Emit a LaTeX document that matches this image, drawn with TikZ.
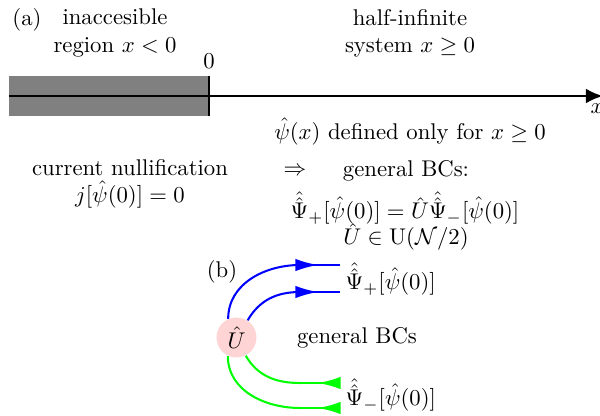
\documentclass[tikz,border=0pt]{standalone}
\usepackage{amsmath,amssymb}
\usepackage{tikz}
\usetikzlibrary{arrows.meta,decorations.markings}

\begin{document}
\begin{tikzpicture}[x=0.44pt, y=0.44pt,
  lbl/.style={align=center, inner sep=1pt},
  axis/.style={line width=1pt, -{Latex[length=7.5pt,width=6.5pt]}},
  wall/.style={fill=gray, draw=none},
  bl/.style={blue, line width=0.9pt},
  gr/.style={green, line width=0.9pt},
  fwd/.style={decoration={markings, mark=at position 0.45 with {\arrow{Latex[length=10pt,width=5.5pt]}}}, postaction=decorate},
  bwd/.style={decoration={markings, mark=at position 0.45 with {\arrowreversed{Latex[length=10pt,width=5.5pt]}}}, postaction=decorate},
  umat/.style={circle, fill=red!17, minimum size=17.6pt, inner sep=0pt}]
\useasboundingbox (0,0) rectangle (600,416);

\node[lbl] (tag-a) at (27,396) {(a)};
\node[lbl] (inacc) at (115,383) {inaccesible\\region $x<0$};
\node[lbl] (halfinf) at (410,383) {half-infinite\\system $x\geq 0$};
\node[lbl] (zero) at (209,355) {0};

\coordinate (xl) at (9,320);
\coordinate (x0) at (209,320);
\coordinate (xr) at (603,320);
\fill[wall] (9,300) rectangle (209,340);
\draw[line width=1pt] (209,300) -- (209,340);
\draw[axis] (xl) -- (xr);
\node[lbl, anchor=north] (xlab) at (597,315) {$x$};

\node[lbl] (defined) at (410,285) {$\hat{\psi}(x)$ defined only for $x\geq 0$};

\node[lbl] (nullif) at (130,232) {current nullification\\$j[\hat{\psi}(0)]=0$};
\node[lbl] (impl) at (295,245) {$\Rightarrow$};
\node[lbl] (genbc) at (406,245) {general BCs:};
\node[lbl] (eq) at (405,208) {$\hat{\hat{\Psi}}_+[\hat{\psi}(0)]=\hat{U}\hat{\hat{\Psi}}_-[\hat{\psi}(0)]$};
\node[lbl] (group) at (406,179) {$\hat{U}\in\mathrm{U}(\mathcal{N}/2)$};

\node[lbl] (tag-b) at (222,144) {(b)};
\node[umat] (U) at (236.5,78.5) {$\hat{U}$};
\node[lbl] (bcs) at (357,78) {general BCs};

\coordinate (bp1) at (300,151);
\coordinate (bq1) at (340,151);
\coordinate (bp2) at (300,124);
\coordinate (bq2) at (340,124);
\coordinate (gp1) at (300,33);
\coordinate (gq1) at (340,33);
\coordinate (gp2) at (300,8);
\coordinate (gq2) at (340,8);

\draw[bl] (U.114) to[out=90,in=180] (bp1) edge[fwd] (bq1);
\draw[bl] (U.57) to[out=60,in=180] (bp2) edge[fwd] (bq2);
\draw[gr] (U.-63) to[out=-60,in=180] (gp1) edge[bwd] (gq1);
\draw[gr] (U.-115) to[out=-90,in=180] (gp2) edge[bwd] (gq2);

\node[lbl, anchor=west] (psip) at (343,137) {$\hat{\hat{\Psi}}_+[\hat{\psi}(0)]$};
\node[lbl, anchor=west] (psim) at (343,21) {$\hat{\hat{\Psi}}_-[\hat{\psi}(0)]$};
\end{tikzpicture}
\end{document}
